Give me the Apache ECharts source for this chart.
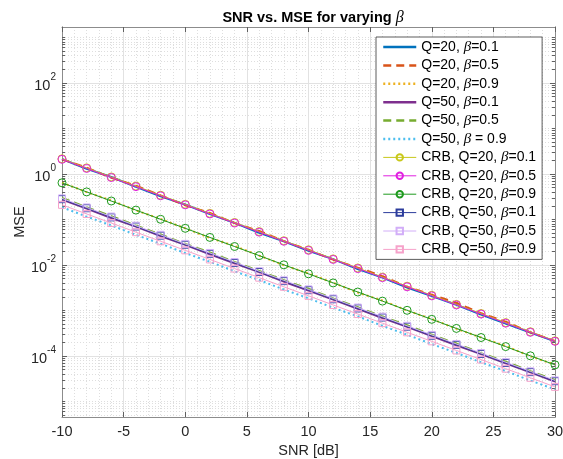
<!DOCTYPE html>
<html><head><meta charset="utf-8">
<script src="https://cdn.jsdelivr.net/npm/echarts@6/dist/echarts.min.js"></script>
<style>html,body{margin:0;padding:0;background:#fff}#c{width:563px;height:459px}</style>
</head><body><div id="c"></div>
<script>
// ---- data ----
const snr = [-10,-8,-6,-4,-2,0,2,4,6,8,10,12,14,16,18,20,22,24,26,28,30];

const q20b01 = [2.14,1.30,0.861,0.522,0.322,0.214,0.131,0.0844,0.0511,0.0332,0.0206,0.0135,0.00811,0.00527,0.00319,0.00208,0.00134,0.000811,0.000516,0.000329,0.00021];
const q20b05 = [2.1,1.378,0.828,0.553,0.339,0.206,0.139,0.0836,0.0559,0.0335,0.0216,0.0131,0.00878,0.00569,0.00332,0.00223,0.00148,0.000869,0.000569,0.000332,0.000214];
const q20b09 = [0.646,0.4,0.263,0.158,0.103,0.064,0.0392,0.0263,0.0161,0.0099,0.00653,0.00408,0.00247,0.00166,0.001,0.000653,0.000396,0.000255,0.000166,0.000099,0.0000646];
const q50b01 = [0.274,0.175,0.108,0.0696,0.0434,0.0277,0.0172,0.0109,0.00696,0.0043,0.00274,0.00175,0.00109,0.000682,0.000439,0.000274,0.000172,0.00011,0.0000689,0.0000439,0.0000274];
const q50b05 = [0.297,0.186,0.119,0.0738,0.047,0.0291,0.0189,0.0117,0.00745,0.00465,0.003,0.00184,0.00118,0.000738,0.000474,0.000294,0.000188,0.000116,0.0000752,0.0000465,0.0000297];
const q50b09 = [0.186,0.116,0.0744,0.0459,0.0294,0.0183,0.0118,0.00728,0.00467,0.00289,0.00186,0.00115,0.000744,0.000459,0.000294,0.000183,0.000117,0.0000728,0.0000467,0.0000289,0.0000185];

const crbQ20b01 = [2.16,1.365,0.861,0.543,0.342,0.216,0.1365,0.0861,0.0543,0.0342,0.0216,0.01365,0.00861,0.00543,0.00342,0.00216,0.001365,0.000861,0.000543,0.000342,0.000216];
const crbQ20b05 = [2.1,1.325,0.836,0.527,0.332,0.21,0.1325,0.0836,0.0527,0.0332,0.021,0.01325,0.00836,0.00527,0.00332,0.0021,0.001325,0.000836,0.000527,0.000332,0.00021];
const crbQ20b09 = [0.64,0.404,0.255,0.161,0.101,0.064,0.0404,0.0255,0.0161,0.0101,0.0064,0.00404,0.00255,0.00161,0.00101,0.00064,0.000404,0.000255,0.000161,0.000101,0.000064];
const crbQ50b01 = [0.28,0.177,0.1115,0.0703,0.0443,0.028,0.0177,0.01115,0.00703,0.00443,0.0028,0.00177,0.001115,0.000703,0.000443,0.00028,0.000177,0.0001115,0.0000703,0.0000443,0.000028];
const crbQ50b05 = [0.291,0.184,0.116,0.0731,0.0461,0.0291,0.0184,0.0116,0.00731,0.00461,0.00291,0.00184,0.00116,0.000731,0.000461,0.000291,0.000184,0.000116,0.0000731,0.0000461,0.0000291];
const crbQ50b09 = [0.21,0.1325,0.0836,0.0527,0.0332,0.021,0.01325,0.00836,0.00527,0.00332,0.0021,0.001325,0.000836,0.000527,0.000332,0.00021,0.0001325,0.0000836,0.0000527,0.0000332,0.000021];

const xTicks = [-10,-5,0,5,10,15,20,25,30];
const yMajorTicks = [1e-4,1e-2,1,1e2];
const yMin = 4.57e-6, yMax = 1700;

// ---- build ----
const FONT = 'Liberation Sans';
const yMinorTicks = [];
for (let k = -6; k <= 3; k++) {
  for (let j = 1; j <= 9; j++) {
    const v = j * Math.pow(10, k);
    if (v >= yMin && v <= yMax && !(j === 1 && k % 2 === 0)) yMinorTicks.push(+v.toPrecision(3));
  }
}
const pairs = arr => snr.map((x, i) => [x, arr[i]]);

function sim(name, arr, color, type) {
  return { type: 'line', name, data: pairs(arr), symbol: 'none', yAxisIndex: 1,
    lineStyle: { color, width: 2, type }, itemStyle: { color }, animation: false };
}
function crb(name, arr, color, sym, size) {
  return { type: 'line', name, data: pairs(arr), symbol: sym, symbolSize: size, yAxisIndex: 1,
    lineStyle: { color, width: 1 }, itemStyle: { color: 'rgba(255,255,255,0)', borderColor: color, borderWidth: 1 },
    animation: false };
}

const series = [
  sim('Q=20, β=0.1', q20b01, '#0072BD', 'solid'),
  sim('Q=20, β=0.5', q20b05, '#D95319', [8, 5]),
  sim('Q=20, β=0.9', q20b09, '#EDB120', [2, 3]),
  sim('Q=50, β=0.1', q50b01, '#7E2F8E', 'solid'),
  sim('Q=50, β=0.5', q50b05, '#77AC30', [8, 5]),
  sim('Q=50, β = 0.9', q50b09, '#4DBEEE', [2, 3]),
  crb('CRB, Q=20, β=0.1', crbQ20b01, '#C8C81A', 'circle', 8),
  crb('CRB, Q=20, β=0.5', crbQ20b05, '#E020E0', 'circle', 8),
  crb('CRB, Q=20, β=0.9', crbQ20b09, '#1E9A1E', 'circle', 8),
  crb('CRB, Q=50, β=0.1', crbQ50b01, '#2C3C9C', 'rect', 7),
  crb('CRB, Q=50, β=0.5', crbQ50b05, '#D2AEF8', 'rect', 7),
  crb('CRB, Q=50, β=0.9', crbQ50b09, '#F6A2CA', 'rect', 7)
];

const legendData = series.map(s => s.symbol === 'none'
  ? { name: s.name, itemStyle: { opacity: 0 }, lineStyle: { width: 2.5 } }
  : { name: s.name, lineStyle: { width: 1 } });

const axisLineColor = '#8c8c8c';
const tickColor = '#606060';
const minorGrid = { color: '#dedede', type: [1, 2], width: 1 };
const majorGrid = { color: '#e2e2e2', width: 1 };
const xBase = { type: 'value', min: -10, max: 30, interval: 5,
  axisLine: { show: true, onZero: false, lineStyle: { color: axisLineColor } },
  axisTick: { show: true, inside: true, length: 5, lineStyle: { color: tickColor } },
  minorTick: { show: false, splitNumber: 5 } };

const yBase = { type: 'log', logBase: 10, min: yMin, max: yMax,
  axisLine: { show: true, onZero: false, lineStyle: { color: axisLineColor } } };

const option = {
  backgroundColor: '#fff',
  animation: false,
  title: { text: 'SNR vs. MSE for varying {i|β}', left: 308, top: 5, textAlign: 'center',
    textStyle: { fontFamily: FONT, fontSize: 14.5, fontWeight: 'bold', color: '#000',
      rich: { i: { fontFamily: 'Liberation Serif', fontStyle: 'italic', fontWeight: 'normal', fontSize: 16 } } } },
  grid: { left: 62, right: 8, top: 27, bottom: 42, outerBoundsMode: 'none', containLabel: false },
  legend: {
    orient: 'vertical', left: 376, top: 37, padding: [2, 6, 2, 6],
    backgroundColor: '#fff', borderColor: '#333', borderWidth: 0.8,
    itemWidth: 33, itemHeight: 8, itemGap: 2.4, selectedMode: false,
    formatter: n => n.replace(/β/g, '{i|β}'),
    textStyle: { fontFamily: FONT, fontSize: 14, color: '#000', lineHeight: 16,
      rich: { i: { fontFamily: 'Liberation Serif', fontStyle: 'italic', fontSize: 15, lineHeight: 16 } } },
    data: legendData
  },
  xAxis: [
    Object.assign({}, xBase, { position: 'bottom',
      axisLabel: { color: '#262626', fontFamily: FONT, fontSize: 14.5, margin: 7, customValues: xTicks },
      splitLine: { show: true, lineStyle: majorGrid },
      minorSplitLine: { show: true, lineStyle: minorGrid },
      name: 'SNR [dB]', nameLocation: 'middle', nameGap: 25,
      nameTextStyle: { color: '#262626', fontFamily: FONT, fontSize: 14.5 } }),
    Object.assign({}, xBase, { position: 'top', axisLabel: { show: false }, splitLine: { show: false } })
  ],
  yAxis: [
    Object.assign({}, yBase, { position: 'left',
      axisTick: { show: true, inside: true, length: 3, customValues: yMinorTicks, lineStyle: { color: tickColor } },
      axisLabel: { show: false },
      splitLine: { show: true, lineStyle: minorGrid } }),
    Object.assign({}, yBase, { position: 'left',
      axisTick: { show: true, inside: true, length: 5, customValues: yMajorTicks, lineStyle: { color: tickColor } },
      axisLabel: { show: true, customValues: yMajorTicks, margin: 6,
        formatter: v => '{b|10}{s|' + Math.round(Math.log10(v)) + '}',
        rich: { b: { fontFamily: FONT, fontSize: 14.5, color: '#262626', verticalAlign: 'top', padding: [6, 0, 0, 0] },
                s: { fontFamily: FONT, fontSize: 10, color: '#262626', verticalAlign: 'top' } } },
      splitLine: { show: true, lineStyle: majorGrid },
      name: 'MSE', nameLocation: 'middle', nameGap: 35, nameRotate: 90, nameMoveOverlap: false,
      nameTextStyle: { color: '#262626', fontFamily: FONT, fontSize: 14.5 } }),
    Object.assign({}, yBase, { position: 'right',
      axisTick: { show: true, inside: true, length: 3, customValues: yMinorTicks, lineStyle: { color: tickColor } },
      axisLabel: { show: false }, splitLine: { show: false } }),
    Object.assign({}, yBase, { position: 'right',
      axisTick: { show: true, inside: true, length: 5, customValues: yMajorTicks, lineStyle: { color: tickColor } },
      axisLabel: { show: false }, splitLine: { show: false } })
  ],
  series
};

const chart = echarts.init(document.getElementById('c'), null, { renderer: 'canvas' });
chart.setOption(option);
</script>
</body></html>
